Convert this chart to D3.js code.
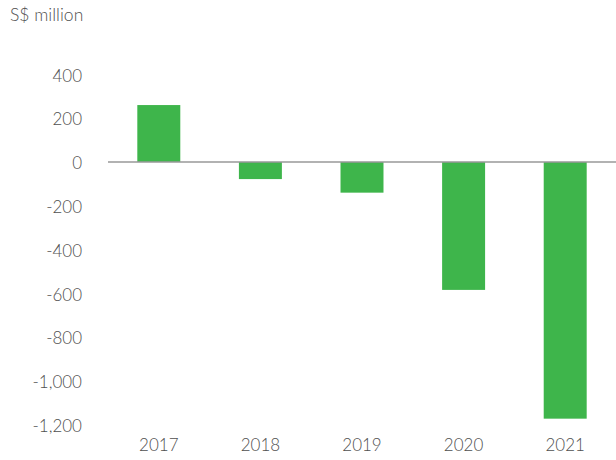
<!DOCTYPE html>
<html>
<head>
<meta charset="utf-8">
<script src="https://cdn.jsdelivr.net/npm/d3@7"></script>
<style>
  body { margin: 0; background: #fff; }
  text { font-family: Lato, "Noto Sans", sans-serif; font-weight: 300; fill: #505050; }
</style>
</head>
<body>
<svg id="chart" width="616" height="460"></svg>
<script>
var years = ["2017", "2018", "2019", "2020", "2021"];
var values = [260, -78, -140, -584, -1172];
var yTicks = [400, 200, 0, -200, -400, -600, -800, -1000, -1200];

var svg = d3.select("#chart");

var x = d3.scaleBand()
  .domain(years)
  .range([108, 616])
  .paddingInner(0.577)
  .paddingOuter(0.2885);

var y = d3.scaleLinear()
  .domain([-1200, 400])
  .range([424.8, 74.4]);

var fmt = d3.format(",");

// y labels
svg.append("g")
  .selectAll("text")
  .data(yTicks)
  .join("text")
  .attr("x", 82)
  .attr("y", function(d) { return y(d) + 3; })
  .attr("text-anchor", "end")
  .attr("dominant-baseline", "middle")
  .style("font-size", "17px")
  .text(function(d) { return d < 0 ? "-" + fmt(-d) : fmt(d); });

// bars
svg.append("g")
  .selectAll("rect")
  .data(values)
  .join("rect")
  .attr("x", function(d, i) { return x(years[i]); })
  .attr("width", x.bandwidth())
  .attr("y", function(d) { return y(Math.max(0, d)); })
  .attr("height", function(d) { return Math.abs(y(d) - y(0)); })
  .attr("fill", "#3eb54b");

// zero line
svg.append("line")
  .attr("x1", 108)
  .attr("x2", 616)
  .attr("y1", y(0))
  .attr("y2", y(0))
  .attr("stroke", "#999")
  .attr("stroke-width", 1.5);

// x labels
svg.append("g")
  .selectAll("text")
  .data(years)
  .join("text")
  .attr("x", function(d) { return x(d) + x.bandwidth() / 2; })
  .attr("y", 447)
  .attr("text-anchor", "middle")
  .attr("dominant-baseline", "middle")
  .style("font-size", "17px")
  .text(function(d) { return d; });

// unit label
svg.append("text")
  .attr("x", 10)
  .attr("y", 17)
  .attr("dominant-baseline", "middle")
  .style("font-size", "17.5px")
  .text("S$ million");
</script>
</body>
</html>
